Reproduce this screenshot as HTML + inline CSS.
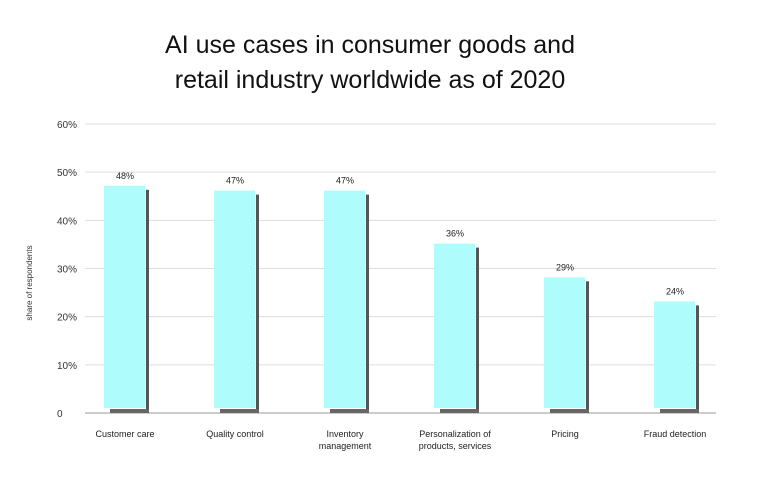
<!DOCTYPE html>
<html><head><meta charset="utf-8"><style>
body{margin:0;background:#fff;}
svg{font-family:"Liberation Sans",sans-serif;}
</style></head><body>
<svg width="775" height="480">
<text x="370" y="53" text-anchor="middle" font-size="25" fill="#111">AI use cases in consumer goods and</text>
<text x="370" y="88" text-anchor="middle" font-size="25" fill="#111">retail industry worldwide as of 2020</text>
<text transform="translate(32,283) rotate(-90)" text-anchor="middle" font-size="8" fill="#333">share of respondents</text>
<g id="grid"></g><g id="bars"></g>
</svg>
<script>
const categories=[["Customer care"],["Quality control"],["Inventory","management"],["Personalization of","products, services"],["Pricing"],["Fraud detection"]];
const values=[48,47,47,36,29,24];
const valueLabels=["48%","47%","47%","36%","29%","24%"];
const yTicks=[0,10,20,30,40,50,60];
const yTickLabels=["0","10%","20%","30%","40%","50%","60%"];
const NS="http://www.w3.org/2000/svg";
const y=v=>413-v*(289/60);
const x=i=>125+i*110;
function mk(t,a,p){const e=document.createElementNS(NS,t);for(const k in a)e.setAttribute(k,a[k]);p.appendChild(e);return e;}
const g=document.getElementById('grid'),b=document.getElementById('bars');
yTicks.forEach((t,i)=>{
 const l=mk('line',{x1:85,x2:716,y1:y(t),y2:y(t),stroke:i===0?'#999':'#ddd','stroke-width':1},g);
 
 
 const tx=mk('text',{x:57,y:y(t)+4,'font-size':10,fill:'#333'},g);tx.textContent=yTickLabels[i];
 
 
});
values.forEach((v,i)=>{
 const cx=x(i),top=y(v);
 const sh=mk('rect',{x:cx+21,y:top+8,width:3,height:413-top-8,fill:'#555'},b);
 
 
 const sb=mk('rect',{x:cx-15,y:409,width:39,height:4,fill:'#666'},b);
 
 
 const r=mk('rect',{x:cx-21,y:top+4,width:41,height:408-top-4,fill:'#aefcfc'},b);
 
 
 const vl=mk('text',{x:cx,y:top-3,'text-anchor':'middle','font-size':9,fill:'#222'},b);vl.textContent=valueLabels[i];
 
 
 categories[i].forEach((s,j)=>{
  const t=mk('text',{x:cx,y:437+j*12,'text-anchor':'middle','font-size':9,fill:'#222'},b);t.textContent=s;
  
  
 });
});
</script>
</body></html>
